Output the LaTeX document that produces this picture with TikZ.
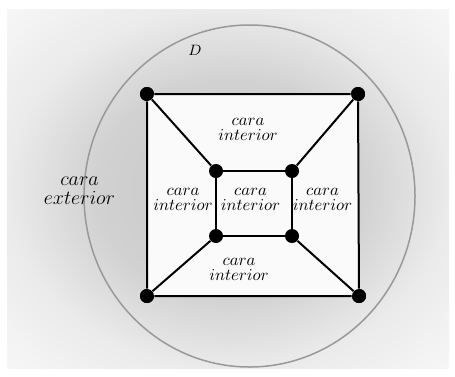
\documentclass[tikz,border=0pt]{standalone}

% soft grey glow behind the drawing
\pgfdeclareradialshading{bgglow}{\pgfpoint{0bp}{0bp}}{%
  color(0bp)=(black!22); color(15bp)=(black!18); color(25bp)=(black!8);
  color(36bp)=(black!3); color(50bp)=(black!3)}

\tikzset{
  vtx/.style={circle, fill=black, inner sep=0pt, minimum size=8.4pt},
  edge/.style={draw=black, line width=1.2pt},
  facelbl/.style={align=center, inner sep=0pt, font=\fontsize{10}{9}\selectfont},
  extlbl/.style={align=center, inner sep=0pt, font=\fontsize{13}{11.4}\selectfont},
}

\begin{document}
\begin{tikzpicture}[x=0.6pt, y=-0.6pt]
  \useasboundingbox (0,0) rectangle (455,376);
  \shade[shading=bgglow] (7,9) rectangle (449,368);

  % disc D
  \draw[black!40, line width=0.9pt] (249.5,196) ellipse [x radius=165.5, y radius=171];

  % outer cycle
  \node[vtx] (o1) at (147,94) {};
  \node[vtx] (o2) at (358,94) {};
  \node[vtx] (o3) at (359,296) {};
  \node[vtx] (o4) at (147,296) {};
  % inner cycle
  \node[vtx] (i1) at (216,171) {};
  \node[vtx] (i2) at (292,171) {};
  \node[vtx] (i3) at (292,236) {};
  \node[vtx] (i4) at (216,236) {};

  % bounded region
  \fill[black!2] (o1.center) -- (o2.center) -- (o3.center) -- (o4.center) -- cycle;

  \path[edge] (o1) -- (o2) -- (o3) -- (o4) -- (o1);
  \path[edge] (i1) -- (i2) -- (i3) -- (i4) -- (i1);
  \path[edge] (o1) -- (i1);
  \path[edge] (o2) -- (i2);
  \path[edge] (o3) -- (i3);
  \path[edge] (o4) -- (i4);

  % redraw the vertices on top of the fill
  \foreach \v in {o1,o2,o3,o4,i1,i2,i3,i4}
    \fill (\v) circle[radius=4.2pt];

  % labels
  \node[font=\small] (d) at (195,50) {$D$};
  \node[extlbl] (ext) at (79.5,191) {$cara$\\$exterior$};
  \node[facelbl] (ft) at (248,129.5) {$cara$\\$interior$};
  \node[facelbl] (fl) at (183,199.5) {$cara$\\$interior$};
  \node[facelbl] (fc) at (250.5,199.5) {$cara$\\$interior$};
  \node[facelbl] (fr) at (322.5,199.5) {$cara$\\$interior$};
  \node[facelbl] (fb) at (239,269.5) {$cara$\\$interior$};
\end{tikzpicture}
\end{document}
